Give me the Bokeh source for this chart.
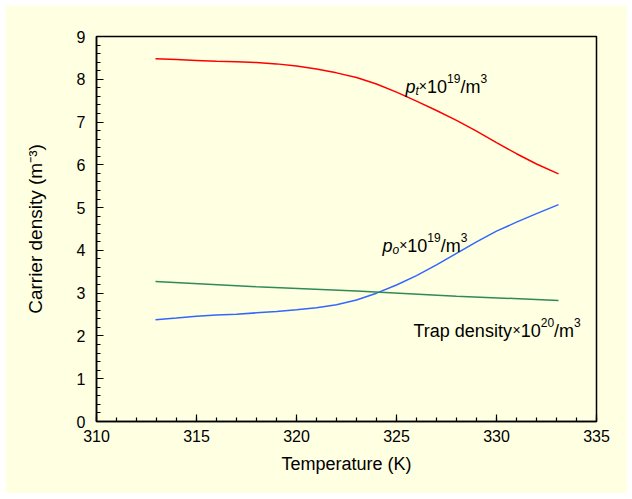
from bokeh.plotting import figure
from bokeh.models import Label, SingleIntervalTicker, Range1d, Spacer
from bokeh.layouts import column, row
from bokeh.embed import file_html
from bokeh.resources import INLINE

# ---- data ----
temperature = [312.95, 314, 315, 316, 317, 318, 319, 320, 321, 322, 323,
               324, 325, 326, 327, 328, 329, 330, 331, 332, 333.1]
p_t = [8.48, 8.46, 8.44, 8.42, 8.41, 8.39, 8.36, 8.31, 8.24, 8.15, 8.04,
       7.89, 7.70, 7.49, 7.27, 7.04, 6.79, 6.52, 6.26, 6.02, 5.79]
p_o = [2.38, 2.42, 2.46, 2.49, 2.51, 2.54, 2.57, 2.61, 2.66, 2.73, 2.84,
       3.00, 3.19, 3.41, 3.66, 3.93, 4.20, 4.45, 4.66, 4.86, 5.07]
trap_temperature = [312.95, 318, 323, 328, 333.1]
trap_density = [3.27, 3.15, 3.05, 2.93, 2.83]

x_ticks_interval = 5
y_ticks_interval = 1

BG = "#FFFFE1"
FONT = "Liberation Sans"

W, H = 622, 488
LEFT, RIGHT, TOP, BOTTOM = 91, 31, 31, 72

p = figure(width=W, height=H, output_backend="svg", toolbar_location=None,
           x_range=Range1d(310, 335), y_range=Range1d(0, 9),
           min_border_left=LEFT, min_border_right=RIGHT,
           min_border_top=TOP, min_border_bottom=BOTTOM)
p.background_fill_color = BG
p.border_fill_color = BG
p.outline_line_color = "black"
p.outline_line_width = 1.5
p.grid.visible = False

p.xaxis.ticker = SingleIntervalTicker(interval=x_ticks_interval, num_minor_ticks=5)
p.yaxis.ticker = SingleIntervalTicker(interval=y_ticks_interval, num_minor_ticks=5)
for ax in (p.xaxis[0], p.yaxis[0]):
    ax.axis_line_color = "black"
    ax.axis_line_width = 1.5
    ax.major_tick_in = 7
    ax.major_tick_out = 0
    ax.minor_tick_in = 4
    ax.minor_tick_out = 0
    ax.major_tick_line_color = "black"
    ax.minor_tick_line_color = "black"
    ax.major_tick_line_width = 1.2
    ax.minor_tick_line_width = 1.2
    ax.major_label_text_font = FONT
    ax.major_label_text_font_size = "16px"
    ax.major_label_text_color = "black"
    ax.axis_label_text_font = FONT
    ax.axis_label_text_font_style = "normal"
    ax.axis_label_text_color = "black"
p.xaxis.major_label_standoff = 8
p.yaxis.major_label_standoff = 11
p.xaxis.axis_label = "Temperature (K)"
p.xaxis.axis_label_text_font_size = "18px"
p.xaxis.axis_label_standoff = 9
p.yaxis.axis_label = "Carrier density (m\u207b\u00b3)"
p.yaxis.axis_label_text_font_size = "19px"
p.yaxis.axis_label_standoff = 28

p.line(temperature, p_t, line_color="#FF0000", line_width=1.5)
p.line(temperature, p_o, line_color="#3366FF", line_width=1.5)
p.line(trap_temperature, trap_density, line_color="#2E8B57", line_width=1.5)

# ---- annotation placement helpers (image pixel -> data) ----
OX, OY = 5, 5  # figure offset in page
fx0 = OX + LEFT
fx1 = OX + W - RIGHT
fy0 = OY + TOP
fy1 = OY + H - BOTTOM

def X(px):
    return 310 + (px - fx0) / (fx1 - fx0) * 25

def Y(py):
    return (fy1 - py) / (fy1 - fy0) * 9

EM = {"p": .556, "t": .278, "o": .556, "×": .584, "/": .278, "m": .833, " ": .278,
      "T": .611, "r": .333, "a": .556, "d": .556, "e": .556, "n": .556, "s": .5,
      "i": .222, "y": .5, "C": .722, "(": .333, ")": .333, "-": .333}

def width(s, size):
    return sum(EM.get(c, .556) for c in s) * size

def txt(px, py, s, size, italic=False):
    p.add_layout(Label(x=X(px), y=Y(py), text=s, text_font=FONT,
                       text_font_size=f"{size}px",
                       text_font_style="italic" if italic else "normal",
                       text_color="black",
                       text_align="left", text_baseline="alphabetic"))

def rich(px, py, parts):
    # parts: (text, size, dy, italic)
    x = px
    for s, size, dy, it in parts:
        txt(x, py + dy, s, size, it)
        x += width(s, size)

BIG, SMALL, TIMES = 18, 12, 14
rich(405, 86, [("p", BIG, 0, True), ("t", SMALL, 4, True), ("×", TIMES, -1, False),
               ("10", BIG, 0, False), ("19", SMALL, -8, False), ("/m", BIG, 0, False),
               ("3", SMALL, -8, False)])
rich(382, 245, [("p", BIG, 0, True), ("o", SMALL, 4, True), ("×", TIMES, -1, False),
                ("10", BIG, 0, False), ("19", SMALL, -8, False), ("/m", BIG, 0, False),
                ("3", SMALL, -8, False)])
rich(413, 330, [("Trap density", BIG, 0, False), ("×", TIMES, -1, False),
                ("10", BIG, 0, False), ("20", SMALL, -8, False), ("/m", BIG, 0, False),
                ("3", SMALL, -8, False)])

layout = column(Spacer(height=OY), row(Spacer(width=OX), p))
open("out.html", "w").write(file_html(layout, INLINE))
